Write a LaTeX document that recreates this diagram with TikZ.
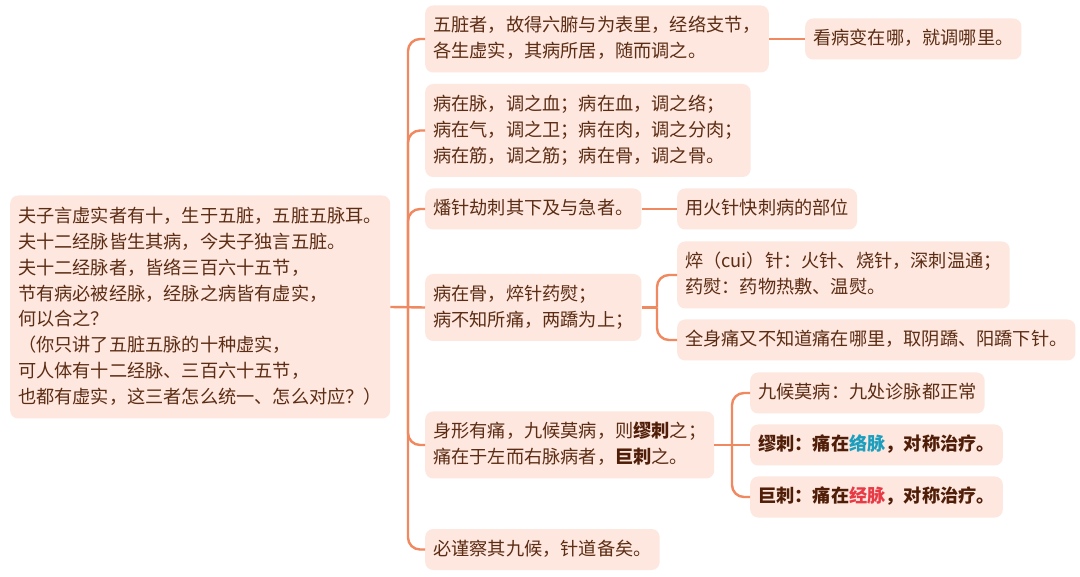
\documentclass[tikz,border=0pt]{standalone}
\usepackage{fontspec}
\setmainfont{Noto Sans CJK SC}
\definecolor{boxfill}{RGB}{253,231,222}
\definecolor{txt}{RGB}{92,44,20}
\definecolor{btxt}{RGB}{80,30,8}
\definecolor{conn}{RGB}{240,136,96}
\definecolor{blu}{RGB}{28,158,190}
\definecolor{rd}{RGB}{232,58,70}
\newcommand\fsz{\fontsize{18.2}{26}\selectfont}
\newcommand\st{\rule[-7pt]{0pt}{26pt}}
\begin{document}
\begin{tikzpicture}[x=1pt,y=1pt,
  box/.style={draw=none, fill=boxfill, rounded corners=8pt, inner xsep=8pt, inner ysep=7.5pt,
    align=left, font=\fsz, text=txt, anchor=west},
  link/.style={draw=conn, line width=2.4pt, rounded corners=12pt}]
\useasboundingbox (0,0) rectangle (1080,-577);
\fill[white] (0,0) rectangle (1080,-577);

\node[box] (root) at (10,-307) {\st{}夫子言虚实者有十，生于五脏，五脏五脉耳。\\\st{}夫十二经脉皆生其病，今夫子独言五脏。\\\st{}夫十二经脉者，皆络三百六十五节，\\\st{}节有病必被经脉，经脉之病皆有虚实，\\\st{}何以合之？\\\st{}（你只讲了五脏五脉的十种虚实，\\\st{}可人体有十二经脉、三百六十五节，\\\st{}也都有虚实，这三者怎么统一、怎么对应？）};

\node[box] (A1) at (425,-39) {\st{}五脏者，故得六腑与为表里，经络支节，\\\st{}各生虚实，其病所居，随而调之。};
\node[box] (A2) at (425,-130.5) {\st{}病在脉，调之血；病在血，调之络；\\\st{}病在气，调之卫；病在肉，调之分肉；\\\st{}病在筋，调之筋；病在骨，调之骨。};
\node[box] (A3) at (425,-209) {\st{}燔针劫刺其下及与急者。};
\node[box] (A4) at (425,-307.5) {\st{}病在骨，焠针药熨；\\\st{}病不知所痛，两蹻为上；};
\node[box] (A5) at (425,-445) {\st{}身形有痛，九候莫病，则\textcolor{btxt}{\bfseries 缪刺}之；\\\st{}痛在于左而右脉病者，\textcolor{btxt}{\bfseries 巨刺}之。};
\node[box] (A6) at (425,-549.5) {\st{}必谨察其九候，针道备矣。};

\node[box] (B1) at (805,-39) {\st{}看病变在哪，就调哪里。};
\node[box] (B3) at (677,-209) {\st{}用火针快刺病的部位};
\node[box] (B4a) at (677,-275) {\st{}焠（cui）针：火针、烧针，深刺温通；\\\st{}药熨：药物热敷、温熨。};
\node[box] (B4b) at (677,-340) {\st{}全身痛又不知道痛在哪里，取阴蹻、阳蹻下针。};
\node[box] (B5a) at (750,-393) {\st{}九候莫病：九处诊脉都正常};
\node[box, text=btxt, font=\fsz\bfseries] (B5b) at (750,-445) {\st{}缪刺：痛在\textcolor{blu}{络脉}，对称治疗。};
\node[box, text=btxt, font=\fsz\bfseries] (B5c) at (750,-497) {\st{}巨刺：痛在\textcolor{rd}{经脉}，对称治疗。};

\coordinate (j0) at (408,-307);
\coordinate (j4) at (657,-307.5);
\coordinate (j5) at (732,-445);

\draw[link] (root.east) -- (A4.west);
\foreach \n in {A1,A2,A3,A5,A6} \draw[link] (j0) |- (\n.west);

\draw[link] (A1.east) -- (B1.west);
\draw[link] (A3.east) -- (B3.west);
\draw[link] (A4.east) -- (j4);
\draw[link] (j4) |- (B4a.west);
\draw[link] (j4) |- (B4b.west);
\draw[link] (A5.east) -- (B5b.west);
\draw[link] (j5) |- (B5a.west);
\draw[link] (j5) |- (B5c.west);
\end{tikzpicture}
\end{document}
